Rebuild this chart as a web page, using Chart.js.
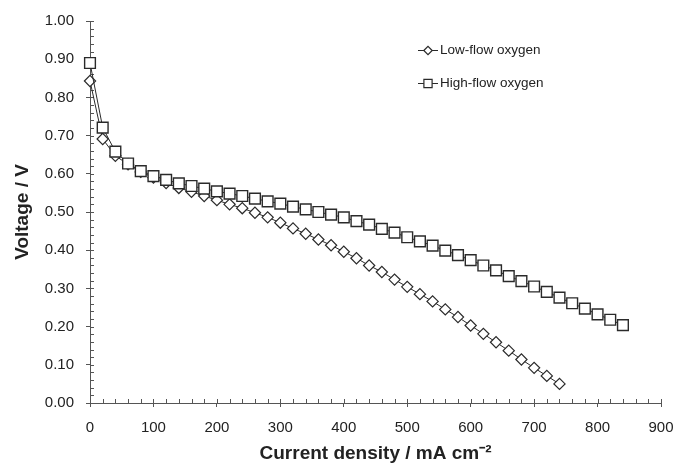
<!DOCTYPE html>
<html>
<head>
<meta charset="utf-8">
<script src="https://cdn.jsdelivr.net/npm/chart.js@4.4.1/dist/chart.umd.min.js"></script>
<style>
  html, body { margin: 0; padding: 0; background: #fff; }
  #wrap { width: 676px; height: 464px; }
</style>
</head>
<body>
<div id="wrap"><canvas id="polChart" width="676" height="464"></canvas></div>
<script>
// current density (mA cm-2) and cell voltage (V)
const currentLow = [0, 20, 40, 60, 80, 100, 120, 140, 160, 180, 200, 220, 240, 260, 280, 300,
  320, 340, 360, 380, 400, 420, 440, 460, 480, 500, 520, 540, 560, 580, 600, 620, 640, 660,
  680, 700, 720, 740];
const voltageLow = [0.843, 0.691, 0.647, 0.625, 0.605, 0.590, 0.576, 0.563, 0.553, 0.542,
  0.531, 0.520, 0.510, 0.498, 0.486, 0.472, 0.457, 0.443, 0.428, 0.413, 0.396, 0.379, 0.360,
  0.343, 0.323, 0.304, 0.285, 0.266, 0.245, 0.225, 0.203, 0.181, 0.159, 0.137, 0.114, 0.092,
  0.071, 0.050];

const currentHigh = [0, 20, 40, 60, 80, 100, 120, 140, 160, 180, 200, 220, 240, 260, 280, 300,
  320, 340, 360, 380, 400, 420, 440, 460, 480, 500, 520, 540, 560, 580, 600, 620, 640, 660,
  680, 700, 720, 740, 760, 780, 800, 820, 840];
const voltageHigh = [0.890, 0.721, 0.658, 0.627, 0.607, 0.594, 0.584, 0.575, 0.568, 0.561,
  0.554, 0.548, 0.542, 0.535, 0.528, 0.522, 0.514, 0.507, 0.500, 0.493, 0.486, 0.476, 0.467,
  0.456, 0.446, 0.434, 0.423, 0.412, 0.399, 0.387, 0.374, 0.360, 0.347, 0.332, 0.319, 0.305,
  0.291, 0.276, 0.261, 0.247, 0.232, 0.218, 0.204];

const seriesNames = ['Low-flow oxygen', 'High-flow oxygen'];
const seriesMarkers = ['rectRot', 'rect'];

const inkColor = '#2a2a2a';
const axisColor = '#555';

Chart.defaults.font.family = "'Liberation Sans', Arial, sans-serif";
Chart.defaults.color = '#222';

function toPoints(xs, ys) {
  return xs.map((x, i) => ({ x: x, y: ys[i] }));
}

// inner tick marks (minor every 20 / 0.02, major crossing the axis)
const innerTicks = {
  id: 'innerTicks',
  beforeDatasetsDraw(chart) {
    const { ctx, chartArea, scales } = chart;
    ctx.save();
    ctx.strokeStyle = axisColor;
    ctx.lineWidth = 1;
    ctx.beginPath();
    for (let i = 0; i <= 45; i++) {
      const px = Math.round(scales.x.getPixelForValue(i * 20)) + 0.5;
      ctx.moveTo(px, chartArea.bottom);
      ctx.lineTo(px, chartArea.bottom - 4);
    }
    for (let i = 0; i <= 50; i++) {
      const py = Math.round(scales.y.getPixelForValue(i * 0.02)) + 0.5;
      ctx.moveTo(chartArea.left, py);
      ctx.lineTo(chartArea.left + 4, py);
    }
    ctx.stroke();
    ctx.restore();
  }
};

// legend: short line with marker, then the series name
const lineLegend = {
  id: 'lineLegend',
  afterDraw(chart) {
    const { ctx } = chart;
    const rows = [50, 83];
    ctx.save();
    chart.data.datasets.forEach((ds, i) => {
      const y = rows[i];
      ctx.strokeStyle = inkColor;
      ctx.lineWidth = 1;
      ctx.beginPath();
      ctx.moveTo(418, y + 0.5);
      ctx.lineTo(438, y + 0.5);
      ctx.stroke();
      ctx.fillStyle = '#fff';
      ctx.lineWidth = 1.2;
      Chart.helpers.drawPoint(ctx, { pointStyle: ds.pointStyle, radius: i === 0 ? 4.2 : 5.8, borderWidth: 1.2 }, 428, y + 0.5);
      ctx.fillStyle = '#222';
      ctx.font = "13.5px 'Liberation Sans', Arial, sans-serif";
      ctx.textBaseline = 'middle';
      ctx.textAlign = 'left';
      ctx.fillText(ds.label, 440, y + 0.5);
    });
    ctx.restore();
  }
};

const ctx = document.getElementById('polChart').getContext('2d');
const polChart = new Chart(ctx, {
  type: 'line',
  data: {
    datasets: [
      {
        label: seriesNames[0],
        data: toPoints(currentLow, voltageLow),
        pointStyle: seriesMarkers[0],
        pointRadius: 5.6,
        borderColor: inkColor,
        borderWidth: 1,
        pointBorderColor: inkColor,
        pointBackgroundColor: '#fff',
        pointBorderWidth: 1.2,
        fill: false,
        tension: 0,
        clip: false,
        order: 1
      },
      {
        label: seriesNames[1],
        data: toPoints(currentHigh, voltageHigh),
        pointStyle: seriesMarkers[1],
        pointRadius: 7.6,
        borderColor: inkColor,
        borderWidth: 1,
        pointBorderColor: inkColor,
        pointBackgroundColor: '#fff',
        pointBorderWidth: 1.4,
        fill: false,
        tension: 0,
        clip: false,
        order: 0
      }
    ]
  },
  options: {
    responsive: false,
    animation: false,
    devicePixelRatio: 1,
    layout: { padding: { left: 0, top: 20, right: 15, bottom: 0 } },
    plugins: {
      legend: { display: false },
      tooltip: { enabled: false }
    },
    scales: {
      x: {
        type: 'linear',
        min: 0,
        max: 900,
        afterFit(scale) {
          scale.height = 61;
          scale.paddingLeft = 0;
          scale.paddingRight = 0;
        },
        border: { display: true, color: axisColor, width: 1 },
        grid: { drawOnChartArea: false, drawTicks: true, tickLength: 4, color: axisColor },
        ticks: { stepSize: 100, padding: 12, font: { size: 15 }, color: '#222' },
        title: {
          display: true,
          text: 'Current density / mA cm⁻²',
          font: { size: 19, weight: 'bold', lineHeight: 1 },
          color: '#222',
          padding: { top: 0, bottom: 0.5 }
        }
      },
      y: {
        type: 'linear',
        min: 0,
        max: 1,
        afterFit(scale) { scale.width = 90; },
        border: { display: true, color: axisColor, width: 1 },
        grid: { drawOnChartArea: false, drawTicks: true, tickLength: 4, color: axisColor },
        ticks: {
          stepSize: 0.1,
          padding: 12,
          font: { size: 15 },
          color: '#222',
          callback: (v) => Number(v).toFixed(2)
        },
        title: {
          display: true,
          text: 'Voltage / V',
          font: { size: 19, weight: 'bold', lineHeight: 1 },
          color: '#222',
          padding: { top: 13.5, bottom: 0 }
        }
      }
    }
  },
  plugins: [innerTicks, lineLegend]
});
</script>
</body>
</html>
